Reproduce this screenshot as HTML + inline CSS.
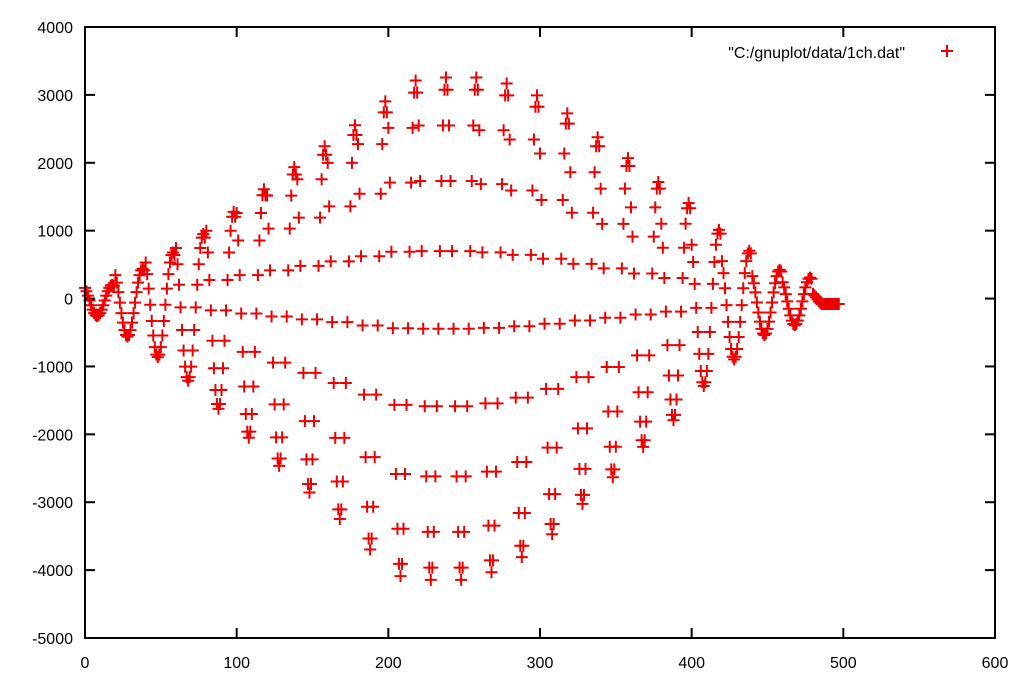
<!DOCTYPE html>
<html><head><meta charset="utf-8"><style>
html,body{margin:0;padding:0;background:#fff;}
svg{display:block;}
text{font-family:"Liberation Sans",sans-serif;font-size:16px;fill:#000;}
</style></head><body>
<svg id="chart" width="1032" height="697" viewBox="0 0 1032 697" xmlns="http://www.w3.org/2000/svg">
<rect x="0" y="0" width="1032" height="697" fill="#fff"/>
<g id="grid"></g>
<g id="pts"></g>
<rect x="85" y="27" width="910" height="611" fill="none" stroke="#000" stroke-width="2"/>
<text x="905" y="58" text-anchor="end">"C:/gnuplot/data/1ch.dat"</text>
<g stroke="#e00" stroke-width="2"><line x1="941" y1="51" x2="953" y2="51"/><line x1="947" y1="45" x2="947" y2="57"/></g>
</svg>
<script>
const xTicks = [0,100,200,300,400,500,600];
const yTicks = [4000,3000,2000,1000,0,-1000,-2000,-3000,-4000,-5000];
const xStart = 0;
const xStep = 1;
const yValues = [
158,108,43,-28,-99,-163,-214,-246,-258,-246,-214,-163,-99,-28,43,108,158,191,202,191,
345,234,95,-60,-215,-354,-465,-536,-560,-536,-465,-354,-215,-60,95,234,345,416,440,416,
531,360,146,-92,-330,-545,-715,-825,-862,-825,-715,-545,-330,-92,146,360,531,640,678,640,
744,505,204,-130,-463,-765,-1003,-1157,-1210,-1157,-1003,-765,-463,-130,204,505,744,897,950,897,
999,679,274,-174,-622,-1027,-1347,-1553,-1624,-1553,-1347,-1027,-622,-174,274,679,999,1205,1276,1205,
1261,856,346,-220,-785,-1296,-1700,-1960,-2050,-1960,-1700,-1296,-785,-220,346,856,1261,1521,1610,1521,
1516,1030,416,-264,-944,-1558,-2044,-2356,-2464,-2356,-2044,-1558,-944,-264,416,1030,1516,1828,1936,1828,
1757,1193,482,-306,-1094,-1805,-2369,-2731,-2856,-2731,-2369,-1805,-1094,-306,482,1193,1757,2119,2244,2119,
1998,1357,548,-348,-1244,-2053,-2694,-3106,-3248,-3106,-2694,-2053,-1244,-348,548,1357,1998,2410,2552,2410,
2274,1544,624,-396,-1416,-2336,-3066,-3534,-3696,-3534,-3066,-2336,-1416,-396,624,1544,2274,2742,2904,2742,
2515,1708,690,-438,-1566,-2584,-3391,-3909,-4088,-3909,-3391,-2584,-1566,-438,690,1708,2515,3033,3212,3033,
2549,1732,699,-444,-1587,-2620,-3437,-3963,-4144,-3963,-3437,-2620,-1587,-444,699,1732,2549,3075,3256,3075,
2549,1732,699,-444,-1587,-2620,-3437,-3963,-4144,-3963,-3437,-2620,-1587,-444,699,1732,2549,3075,3256,3075,
2480,1685,680,-432,-1544,-2549,-3344,-3856,-4032,-3856,-3344,-2549,-1544,-432,680,1685,2480,2992,3168,2992,
2343,1591,643,-408,-1459,-2407,-3159,-3641,-3808,-3641,-3159,-2407,-1459,-408,643,1591,2343,2825,2992,2825,
2136,1451,586,-372,-1330,-2195,-2880,-3320,-3472,-3320,-2880,-2195,-1330,-372,586,1451,2136,2576,2728,2576,
1860,1264,510,-324,-1158,-1912,-2508,-2892,-3024,-2892,-2508,-1912,-1158,-324,510,1264,1860,2244,2376,2244,
1619,1100,444,-282,-1008,-1664,-2183,-2517,-2632,-2517,-2183,-1664,-1008,-282,444,1100,1619,1953,2068,1953,
1344,913,369,-234,-837,-1381,-1812,-2088,-2184,-2088,-1812,-1381,-837,-234,369,913,1344,1620,1716,1620,
1102,749,302,-192,-686,-1133,-1486,-1714,-1792,-1714,-1486,-1133,-686,-192,302,749,1102,1330,1408,1330,
792,538,217,-138,-493,-814,-1068,-1232,-1288,-1232,-1068,-814,-493,-138,217,538,792,956,1012,956,
551,374,151,-96,-343,-566,-743,-857,-896,-857,-743,-566,-343,-96,151,374,551,665,704,665,
331,225,91,-58,-206,-340,-446,-514,-538,-514,-446,-340,-206,-58,91,225,331,399,422,399,
241,164,66,-42,-150,-248,-325,-375,-392,-375,-325,-248,-150,-42,66,164,241,291,308,291,
69,47,19,-12,-43,-71,-80,-80,-80,-80,-80,-80,-80,-80,-80,-80,-80,-80
];
const L=85,R=995,T=27,B=638,xMin=0,xMax=600,yMin=-5000,yMax=4000;
function sx(v){return L+(v-xMin)/(xMax-xMin)*(R-L);}
function sy(v){return B-(v-yMin)/(yMax-yMin)*(B-T);}
const NS="http://www.w3.org/2000/svg";
const grid=document.getElementById('grid');
const pts=document.getElementById('pts');
function mk(tag,attrs,parent){const e=document.createElementNS(NS,tag);for(const k in attrs)e.setAttribute(k,attrs[k]);parent.appendChild(e);return e;}
xTicks.forEach(v=>{
  const x=sx(v);
  const t1=mk('line',{x1:x,y1:B,x2:x,y2:B-10,stroke:'#000','stroke-width':2},grid);
  
  
  const t2=mk('line',{x1:x,y1:T,x2:x,y2:T+10,stroke:'#000','stroke-width':2},grid);
  
  
  const tx=mk('text',{x:x,y:668,'text-anchor':'middle'},grid);
  tx.textContent=v;
  
  
});
yTicks.forEach(v=>{
  const y=sy(v);
  const t1=mk('line',{x1:L,y1:y,x2:L+10,y2:y,stroke:'#000','stroke-width':2},grid);
  
  
  const t2=mk('line',{x1:R,y1:y,x2:R-10,y2:y,stroke:'#000','stroke-width':2},grid);
  
  
  const tx=mk('text',{x:73,y:y+6,'text-anchor':'end'},grid);
  tx.textContent=v;
  
  
});
yValues.forEach((v,i)=>{
  const x=sx(xStart+i*xStep),y=sy(v);
  const g=mk('path',{d:`M${x-6} ${y}H${x+6}M${x} ${y-6}V${y+6}`,stroke:'#e00','stroke-width':2,fill:'none'},pts);
  
  
});
</script>
</body></html>
